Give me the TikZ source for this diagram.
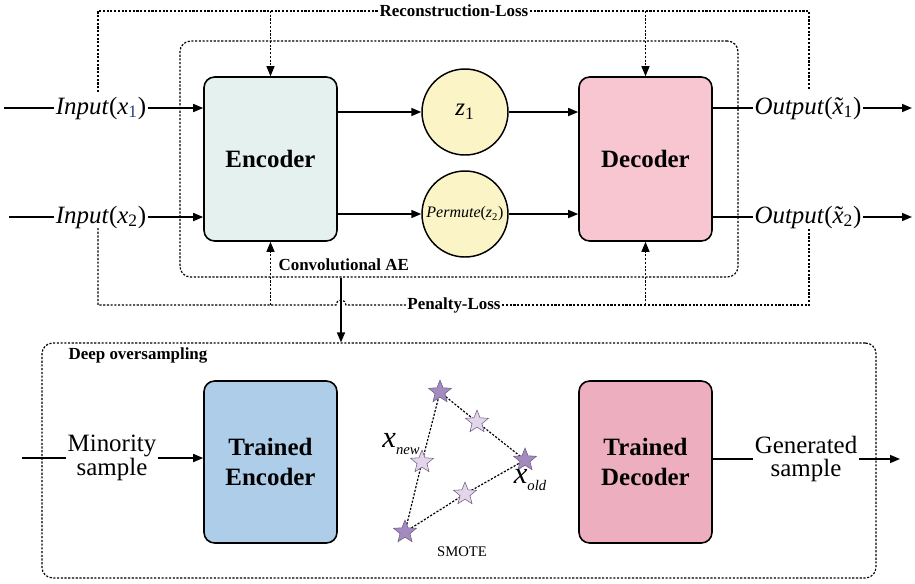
\documentclass[tikz,border=0pt]{standalone}
\usepackage{fontspec}
\setmainfont{Liberation Serif}
\usetikzlibrary{arrows.meta,shapes.geometric,backgrounds}
\definecolor{encfill}{HTML}{E5F1EE}
\definecolor{decfill}{HTML}{F8C6D0}
\definecolor{zfill}{HTML}{FAF4C6}
\definecolor{tencfill}{HTML}{AECDE9}
\definecolor{tdecfill}{HTML}{EDAFC0}
\definecolor{stardark}{HTML}{A48BBF}
\definecolor{starlight}{HTML}{E3D5EA}
\definecolor{starline}{HTML}{6E5C80}
\definecolor{subblue}{HTML}{23407A}
\newcommand\xtilde{\textit{x}\makebox[0pt][r]{\textit{\char"02DC}\hspace{0.02em}}}
\begin{document}
\begin{tikzpicture}[x=0.75pt,y=-0.75pt,
 box/.style={draw,line width=1.2pt,rounded corners=8pt,minimum width=99.75pt,minimum height=123pt,font=\fontsize{18.7}{22.5}\selectfont\bfseries,align=center,inner sep=0pt},
 zcirc/.style={circle,draw,line width=1.1pt,fill=zfill,minimum size=64.5pt,inner sep=0pt},
 arr/.style={line width=1.2pt,-{Triangle[length=7.5pt,width=6pt]}},
 plain/.style={line width=1.2pt},
 dotl/.style={line width=0.9pt,dash pattern=on 1.6pt off 1.2pt},
 dotarr/.style={dotl,-{Triangle[length=7.5pt,width=6pt]}},
 frame/.style={draw,dotl,rounded corners=8pt,inner sep=0pt},
 lbl/.style={font=\fontsize{18.7}{17.5}\selectfont,inner sep=1pt,align=center},
 small/.style={font=\fontsize{12.7}{14}\selectfont\bfseries,inner sep=1pt},
 starn/.style={star,star points=5,star point ratio=2.3,minimum size=18pt,inner sep=0pt,draw=starline,line width=0.4pt},
]
\useasboundingbox (0,0) rectangle (915,583);

% frames
\node[frame,minimum width=418.5pt,minimum height=177pt] (conv) at (459,159) {};
\node[frame,minimum width=625.5pt,minimum height=176.25pt] (deep) at (459,460.5) {};
\node[small,anchor=west] (convlbl) at (277,265) {Convolutional AE};
\node[small,anchor=west] (deeplbl) at (67,355) {Deep oversampling};

% main blocks
\node[box,fill=encfill] (enc) at (270.5,159) {Encoder};
\node[box,fill=decfill] (dec) at (645.5,159) {Decoder};
\node[zcirc] (z1) at (465,112) {\fontsize{18.7}{20}\selectfont\textit{z}\textsubscript{1}};
\node[zcirc] (z2) at (465,214) {\fontsize{12}{13}\selectfont\textit{Permute}(\textit{z}\textsubscript{2})};

% inputs / outputs
\node[lbl] (in1) at (101,108) {\textit{Input}(\textit{x}\textsubscript{\color{subblue}1})};
\node[lbl] (in2) at (101,217) {\textit{Input}(\textit{x}\textsubscript{2})};
\node[lbl] (out1) at (808,108) {\textit{Output}(\xtilde\textsubscript{1})};
\node[lbl] (out2) at (808,217) {\textit{Output}(\xtilde\textsubscript{2})};
\coordinate (in1s) at (4,108);
\coordinate (in2s) at (9,217);
\coordinate (out1e) at (912,108);
\coordinate (out2e) at (912,217);

\draw[plain] (in1s) -- (in1.west);
\draw[arr] (in1.east) -- (enc.west |- in1.east);
\draw[plain] (in2s) -- (in2.west);
\draw[arr] (in2.east) -- (enc.west |- in2.east);
\draw[arr] (enc.east |- z1) -- (z1);
\draw[arr] (enc.east |- z2) -- (z2);
\draw[arr] (z1) -- (dec.west |- z1);
\draw[arr] (z2) -- (dec.west |- z2);
\draw[plain] (dec.east |- out1) -- (out1.west);
\draw[arr] (out1.east) -- (out1e);
\draw[plain] (dec.east |- out2) -- (out2.west);
\draw[arr] (out2.east) -- (out2e);

% reconstruction loss
\node[small] (rec) at (454,11) {Reconstruction-Loss};
\coordinate (rl1) at (98,92);
\coordinate (rr1) at (809,89);
\draw[dotl] (rl1) |- (rec.west);
\draw[dotl] (rec.east) -| (rr1);
\draw[dotarr] (enc.north |- rec) -- (enc.north);
\draw[dotarr] (dec.north |- rec) -- (dec.north);

% penalty loss
\node[small] (pen) at (454,305) {Penalty-Loss};
\coordinate (pl1) at (98,228);
\coordinate (pr1) at (809,228);
\coordinate (hopL) at (336,305);
\draw[dotl] (pl1) |- (hopL) arc (180:360:5) -- (pen.west);
\draw[dotl] (pen.east) -| (pr1);
\draw[dotarr] (enc.south |- pen) -- (enc.south);
\draw[dotarr] (dec.south |- pen) -- (dec.south);

% link between the two frames
\coordinate (vx) at (341,0);
\draw[arr] (conv.south -| vx) -- (deep.north -| vx);

% deep oversampling
\node[box,fill=tencfill,minimum height=121.5pt] (tenc) at (270.5,462) {Trained\\Encoder};
\node[box,fill=tdecfill,minimum height=121.5pt] (tdec) at (645.5,462) {Trained\\Decoder};
\node[lbl] (min) at (112,458) {Minority\\sample};
\node[lbl] (gen) at (806,459) {Generated\\sample};
\coordinate (mins) at (22,458);
\coordinate (gene) at (900,459);
\draw[plain] (mins) -- (min.west);
\draw[arr] (min.east) -- (tenc.west |- min.east);
\draw[plain] (tdec.east |- gen.west) -- (gen.west);
\draw[arr] (gen.east) -- (gene);

% SMOTE
\node[starn,fill=stardark] (sA) at (440,392) {};
\node[starn,fill=stardark] (sB) at (525,460) {};
\node[starn,fill=stardark] (sC) at (405,532) {};
\node[starn,fill=starlight] (sD) at (477,422) {};
\node[starn,fill=starlight] (sE) at (422,462) {};
\node[starn,fill=starlight] (sF) at (465,494) {};
\begin{pgfonlayer}{background}
\draw[dotl] (sA.center) -- (sD.center) -- (sB.center);
\draw[dotl] (sA.center) -- (sE.center) -- (sC.center);
\draw[dotl] (sC.center) -- (sF.center) -- (sB.center);
\end{pgfonlayer}
\node[inner sep=0pt,anchor=east] (xnew) at (420,444) {\fontsize{23}{23}\selectfont\textit{x}\raisebox{-0.25em}{\fontsize{11}{11}\selectfont\textit{new}}};
\node[inner sep=0pt] (xold) at (530,480) {\fontsize{23}{23}\selectfont\textit{x}\raisebox{-0.25em}{\fontsize{11}{11}\selectfont\textit{old}}};
\node[font=\fontsize{11}{12}\selectfont,inner sep=0pt] (smote) at (462,552) {SMOTE};
\end{tikzpicture}
\end{document}
